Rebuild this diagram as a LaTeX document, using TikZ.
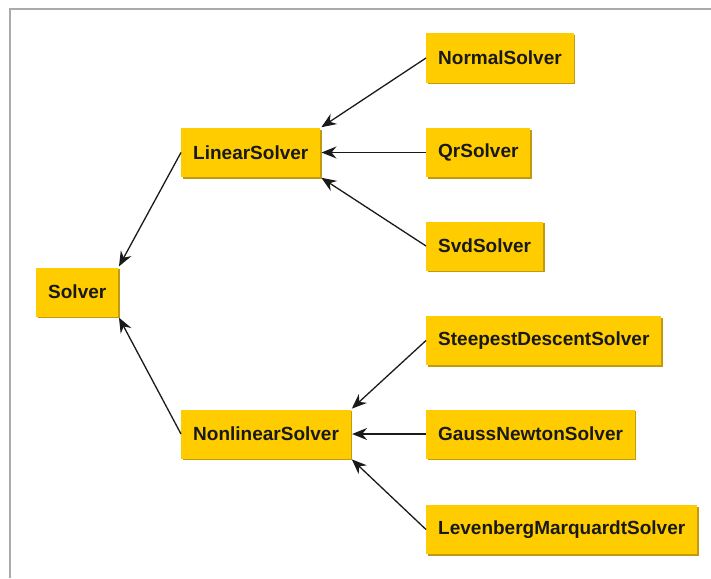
\documentclass[tikz,border=0pt]{standalone}
\usepackage{fontspec}
\setmainfont{Liberation Sans}
\usepackage{tikz}
\usepackage{xcolor}
\usetikzlibrary{arrows.meta, shadows}

\definecolor{boxfill}{HTML}{FFCC00}
\definecolor{boxedge}{HTML}{C09A10}
\definecolor{framegray}{HTML}{AAAAAA}
\definecolor{wire}{HTML}{1A1A1A}

\tikzset{
	classbox/.style={shape=rectangle, fill=boxfill, anchor=west, inner xsep=12pt, minimum height=49pt,
		font=\fontsize{19}{22}\selectfont\bfseries, text=black!90,
		drop shadow={shadow xshift=1.5pt, shadow yshift=-1.5pt, fill=boxedge, opacity=1}},
	inherit/.style={draw=wire, line width=1.3pt, -{Stealth[length=15pt, width=12pt, inset=5pt]}, shorten >=1pt},
}

\begin{document}
\begin{tikzpicture}[x=1pt, y=-1pt]
	\useasboundingbox (0, 0) rectangle (711, 578);
	\draw[framegray, line width=2pt] (9.5, 578) -- (9.5, 9) -- (711, 9);
	% Paths, nodes, and wires:
	\node[classbox](Solver) at (36, 292){Solver};
	\node[classbox](Linear) at (181, 152.5){LinearSolver};
	\node[classbox](Nonlinear) at (181, 434){NonlinearSolver};
	\node[classbox](Normal) at (426, 58){NormalSolver};
	\node[classbox](Qr) at (426, 152.5){QrSolver};
	\node[classbox](Svd) at (426, 246){SvdSolver};
	\node[classbox](Steepest) at (426, 340.5){SteepestDescentSolver};
	\node[classbox](Gauss) at (426, 434){GaussNewtonSolver};
	\node[classbox](Levenberg) at (426, 529.5){LevenbergMarquardtSolver};
	\draw[inherit] (Linear.west) -- (Solver.north east);
	\draw[inherit] (Nonlinear.west) -- (Solver.south east);
	\draw[inherit] (Normal.west) -- (Linear.north east);
	\draw[inherit] (Qr.west) -- (Linear.east);
	\draw[inherit] (Svd.west) -- (Linear.south east);
	\draw[inherit] (Steepest.west) -- (Nonlinear.north east);
	\draw[inherit] (Gauss.west) -- (Nonlinear.east);
	\draw[inherit] (Levenberg.west) -- (Nonlinear.south east);
\end{tikzpicture}
\end{document}
